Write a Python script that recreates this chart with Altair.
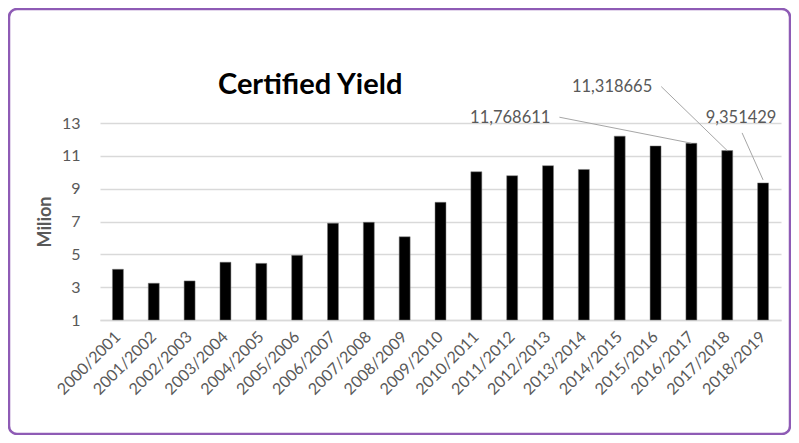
import altair as alt
import pandas as pd

seasons = ["2000/2001", "2001/2002", "2002/2003", "2003/2004", "2004/2005",
           "2005/2006", "2006/2007", "2007/2008", "2008/2009", "2009/2010",
           "2010/2011", "2011/2012", "2012/2013", "2013/2014", "2014/2015",
           "2015/2016", "2016/2017", "2017/2018", "2018/2019"]
yields = [4.09, 3.24, 3.38, 4.52, 4.45, 4.94, 6.9, 6.95, 6.07, 8.17,
          10.03, 9.79, 10.4, 10.17, 12.2, 11.6, 11.768611, 11.318665, 9.351429]
y_ticks = [1, 3, 5, 7, 9, 11, 13]

labelled = ["2016/2017", "2017/2018", "2018/2019"]
label_text = ["11,768611", "11,318665", "9,351429"]

FONT = "Lato"
GRAY = "#595959"
LEADER = "#a6a6a6"

df = pd.DataFrame({"season": seasons, "yield": yields})
lab = pd.DataFrame({"season": labelled,
                    "yield": [yields[seasons.index(s)] for s in labelled],
                    "text": label_text})

x_enc = alt.X("season:N", sort=seasons,
              scale=alt.Scale(paddingInner=0.694, paddingOuter=0.347),
              axis=alt.Axis(title=None, labelAngle=-45, labelAlign="right",
                            labelBaseline="middle", labelPadding=14,
                            labelFont=FONT, labelFontSize=16, labelColor=GRAY,
                            ticks=False, tickSize=0, domainColor="#d9d9d9",
                            domainWidth=1.3, grid=False, labelOverlap=False))
y_scale = alt.Scale(domain=[1, 13], zero=False, nice=False)
y_enc = alt.Y("yield:Q", scale=y_scale,
              axis=alt.Axis(title="Milion", values=y_ticks, tickCount=7,
                            labelOverlap=False, labelFont=FONT,
                            labelFontSize=16, labelColor=GRAY, labelPadding=20,
                            ticks=False, tickSize=0, domain=False,
                            gridColor="#d9d9d9", gridWidth=1.3,
                            titleFont=FONT, titleFontSize=18, titleFontWeight="bold",
                            titleColor=GRAY, titlePadding=7))

border = alt.Chart(alt.Data(values=[{"b": 1}])).mark_rect(
    filled=False, stroke="#8e5bb5", strokeWidth=2.5, cornerRadius=8
).encode(x=alt.value(-91), x2=alt.value(690), y=alt.value(-114), y2=alt.value(311))

bars = alt.Chart(df).mark_bar(color="black", stroke="#7f7f7f", strokeWidth=0.5).encode(
    x=x_enc, y=y_enc, y2=alt.datum(1)
)

def leader(season, dx2, dy2, yoff=0):
    return alt.Chart(lab).transform_filter(alt.datum.season == season).mark_rule(
        color=LEADER, strokeWidth=1, yOffset=yoff, y2Offset=dy2, x2Offset=dx2
    ).encode(x=alt.X("season:N", sort=seasons), x2="season:N",
             y=alt.Y("yield:Q", scale=y_scale), y2="yield:Q")

def label(season, dx, dy, align):
    return alt.Chart(lab).transform_filter(alt.datum.season == season).mark_text(
        font=FONT, fontSize=16.5, color=GRAY, dx=dx, dy=dy, align=align, baseline="middle"
    ).encode(x=alt.X("season:N", sort=seasons), y=alt.Y("yield:Q", scale=y_scale),
             text="text:N")

chart = alt.layer(
    border, bars,
    leader("2016/2017", -132, -26),
    leader("2017/2018", -66, -64),
    leader("2018/2019", -21, -50, -3),
    label("2016/2017", -141, -25.5, "right"),
    label("2017/2018", -75, -63.6, "right"),
    label("2018/2019", -22, -64.4, "center"),
).properties(
    width=681, height=197,
    title=alt.TitleParams("Certified Yield", anchor="start", frame="group", dx=118,
                          offset=-115, baseline="alphabetic", font=FONT, fontSize=29,
                          fontWeight="bold", color="black"),
    autosize=alt.AutoSizeParams(type="none"),
    padding={"left": 92, "top": 115, "right": 10, "bottom": 115},
).configure(background="white").configure_view(stroke=None)

chart.save("out.html", embed_options={"renderer": "svg", "actions": False})
